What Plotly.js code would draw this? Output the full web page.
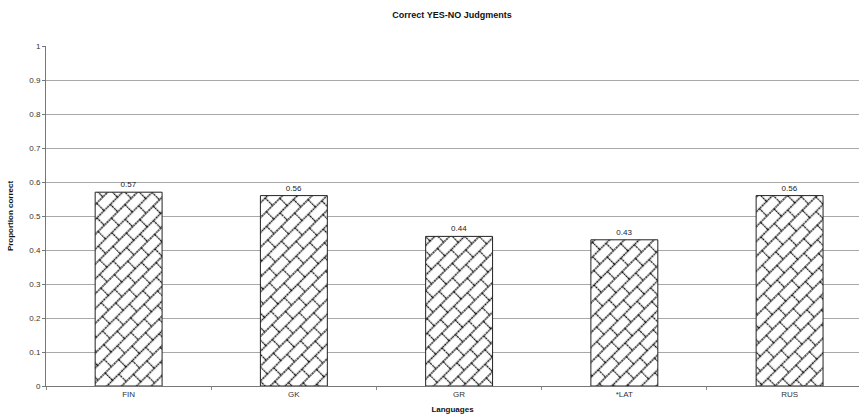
<!DOCTYPE html>
<html>
<head>
<meta charset="utf-8">
<script src="https://cdn.plot.ly/plotly-3.0.1.min.js"></script>
<style>
  html, body { margin: 0; padding: 0; background: #fff; }
  #chart { width: 861px; height: 417px; }
</style>
</head>
<body>
<div id="chart"></div>
<script>
// Proportion of correct YES/NO judgments per language
const languages = ["FIN", "GK", "GR", "*LAT", "RUS"];
const proportionCorrect = [0.57, 0.56, 0.44, 0.43, 0.56];
const valueLabels = ["0.57", "0.56", "0.44", "0.43", "0.56"];
const yTicks = [0, 0.1, 0.2, 0.3, 0.4, 0.5, 0.6, 0.7, 0.8, 0.9, 1];
const yTickLabels = ["0", "0.1", "0.2", "0.3", "0.4", "0.5", "0.6", "0.7", "0.8", "0.9", "1"];

const trace = {
  type: "bar",
  x: languages,
  y: proportionCorrect,
  text: valueLabels,
  textposition: "outside",
  cliponaxis: false,
  textfont: { family: "Liberation Sans, Arial, sans-serif", size: 8, color: "#222" },
  marker: {
    color: "#ffffff",
    line: { color: "#222", width: 1 },
    pattern: { shape: "x", fgcolor: "#111", bgcolor: "#ffffff", size: 12, solidity: 0.14 }
  },
  hoverinfo: "skip"
};

const layout = {
  width: 861,
  height: 417,
  margin: { l: 46, r: 2, t: 46, b: 31 },
  paper_bgcolor: "#ffffff",
  plot_bgcolor: "#ffffff",
  showlegend: false,
  bargap: 0.595,
  font: { family: "Liberation Sans, Arial, sans-serif", size: 8, color: "#333" },
  title: {
    text: "<b>Correct YES-NO Judgments</b>",
    font: { family: "Liberation Sans, Arial, sans-serif", size: 9, color: "#111" },
    x: 0.525, xanchor: "center",
    y: 0.965, yanchor: "middle"
  },
  xaxis: {
    type: "category",
    range: [-0.5, 4.42],
    tickson: "boundaries",
    ticks: "outside",
    ticklen: 3,
    tickcolor: "#888",
    showline: true,
    linecolor: "#777",
    linewidth: 1,
    showgrid: false,
    tickfont: { size: 8, color: "#333" },
    title: {
      text: "<b>Languages</b>",
      font: { size: 8, color: "#111" },
      standoff: 8
    }
  },
  yaxis: {
    range: [0, 1],
    tickvals: yTicks,
    ticktext: yTickLabels,
    ticks: "outside",
    ticklen: 3,
    tickcolor: "#777",
    showline: true,
    linecolor: "#777",
    linewidth: 1,
    showgrid: true,
    gridcolor: "#a8a8a8",
    gridwidth: 1,
    zeroline: false,
    tickfont: { size: 8, color: "#333" },
    title: {
      text: "<b>Proportion correct</b>",
      font: { size: 8, color: "#111" },
      standoff: 14
    }
  }
};

// Turn the bar fill into a diagonal brick hatch: rows of bricks rotated by -45deg,
// so the long edges run up-right and the short joints run down-right.
function brickHatch(gd) {
  const NS = "http://www.w3.org/2000/svg";
  const rowH = 10.5, brickW = 19;
  gd.querySelectorAll("defs pattern").forEach(function (p) {
    while (p.firstChild) p.removeChild(p.firstChild);
    p.setAttribute("patternUnits", "userSpaceOnUse");
    p.setAttribute("width", brickW);
    p.setAttribute("height", 2 * rowH);
    p.setAttribute("patternTransform", "rotate(-45)");
    p.removeAttribute("viewBox");
    const bg = document.createElementNS(NS, "rect");
    bg.setAttribute("width", brickW);
    bg.setAttribute("height", 2 * rowH);
    bg.setAttribute("fill", "#ffffff");
    p.appendChild(bg);
    const d = [
      "M0,0H" + brickW,
      "M0," + rowH + "H" + brickW,
      "M0," + (2 * rowH) + "H" + brickW,
      "M0.6,0V" + rowH,
      "M" + (brickW / 2) + "," + rowH + "V" + (2 * rowH)
    ].join("");
    const path = document.createElementNS(NS, "path");
    path.setAttribute("d", d);
    path.setAttribute("stroke", "#151515");
    path.setAttribute("stroke-width", "1.3");
    path.setAttribute("stroke-dasharray", "2,0.6");
    path.setAttribute("fill", "none");
    p.appendChild(path);
  });
}

Plotly.newPlot("chart", [trace], layout, { staticPlot: true, displayModeBar: false })
  .then(brickHatch);
</script>
</body>
</html>
